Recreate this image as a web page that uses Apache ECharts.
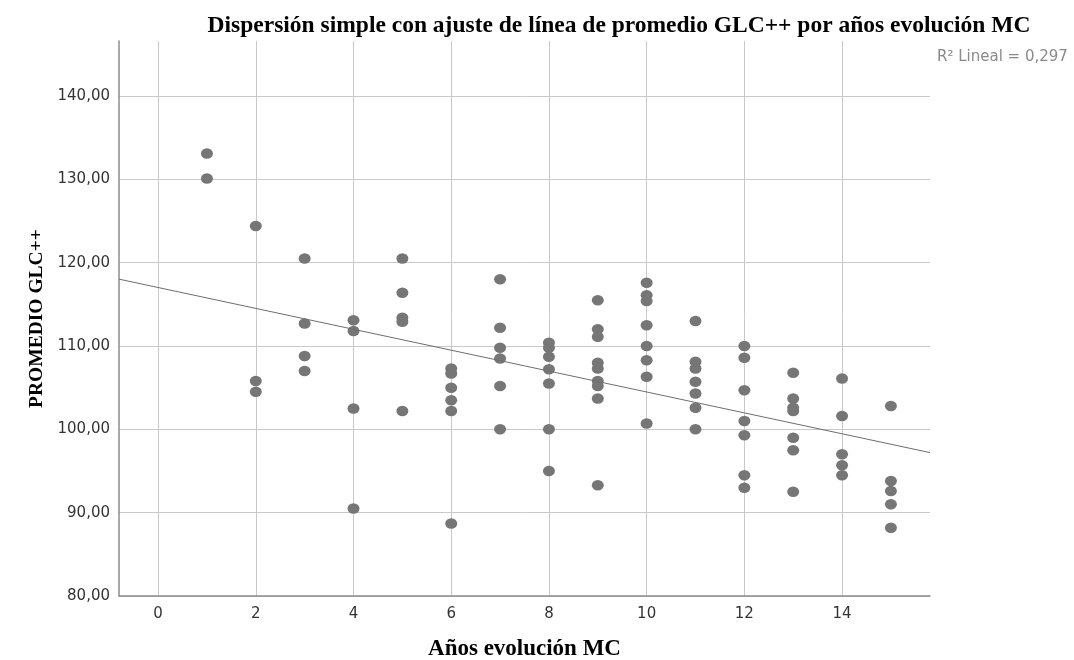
<!DOCTYPE html>
<html>
<head>
<meta charset="utf-8">
<script src="https://cdn.jsdelivr.net/npm/echarts@6/dist/echarts.min.js"></script>
<style>html,body{margin:0;padding:0;background:#fff}#c{width:1074px;height:660px}</style>
</head>
<body>
<div id="c"></div>
<script>
// Años evolución MC (x) and PROMEDIO GLC++ (y)
const anos = [
  1, 1,
  2, 2, 2,
  3, 3, 3, 3,
  4, 4, 4, 4,
  5, 5, 5, 5, 5,
  6, 6, 6, 6, 6, 6,
  7, 7, 7, 7, 7, 7,
  8, 8, 8, 8, 8, 8, 8,
  9, 9, 9, 9, 9, 9, 9, 9, 9,
  10, 10, 10, 10, 10, 10, 10, 10,
  11, 11, 11, 11, 11, 11, 11,
  12, 12, 12, 12, 12, 12, 12,
  13, 13, 13, 13, 13, 13, 13,
  14, 14, 14, 14, 14,
  15, 15, 15, 15, 15
];
const glc = [
  133.1, 130.1,
  124.4, 105.8, 104.5,
  120.5, 112.7, 108.8, 107.0,
  113.1, 111.8, 102.5, 90.5,
  120.5, 116.4, 113.4, 112.9, 102.2,
  107.3, 106.7, 105.0, 103.5, 102.2, 88.7,
  118.0, 112.2, 109.8, 108.5, 105.2, 100.0,
  110.4, 109.8, 108.7, 107.2, 105.5, 100.0, 95.0,
  115.5, 112.0, 111.1, 108.0, 107.3, 105.8, 105.2, 103.7, 93.3,
  117.6, 116.1, 115.4, 112.5, 110.0, 108.3, 106.3, 100.7,
  113.0, 108.1, 107.3, 105.7, 104.3, 102.6, 100.0,
  110.0, 108.6, 104.7, 101.0, 99.3, 94.5, 93.0,
  106.8, 103.7, 102.6, 102.2, 99.0, 97.5, 92.5,
  106.1, 101.6, 97.0, 95.7, 94.5,
  102.8, 93.8, 92.6, 91.0, 88.2
];
const xTicks = [0, 2, 4, 6, 8, 10, 12, 14];
const yTicks = [80, 90, 100, 110, 120, 130, 140];
const titleText = 'Dispersión simple con ajuste de línea de promedio GLC++ por años evolución MC';
const xName = 'Años evolución MC';
const yName = 'PROMEDIO GLC++';
const r2Text = 'R² Lineal = 0,297';
const xMin = -0.8, xMax = 15.8, yMin = 80, yMax = 146.6;

const points = anos.map((a, i) => [a, glc[i]]);
// least-squares fit of the plotted points
const n = anos.length;
const mx = anos.reduce((s, v) => s + v, 0) / n;
const my = glc.reduce((s, v) => s + v, 0) / n;
let sxy = 0, sxx = 0;
for (let i = 0; i < n; i++) { sxy += (anos[i] - mx) * (glc[i] - my); sxx += (anos[i] - mx) ** 2; }
const slope = sxy / sxx, icpt = my - slope * mx;
const fitLine = [[xMin, icpt + slope * xMin], [xMax, icpt + slope * xMax]];

const chart = echarts.init(document.getElementById('c'));
const sans = 'DejaVu Sans';
const serif = 'Liberation Serif';
chart.setOption({
  animation: false,
  backgroundColor: '#ffffff',
  title: {
    text: titleText, left: 614, top: 9, textAlign: 'center',
    textStyle: { fontFamily: serif, fontWeight: 'bold', fontSize: 23.5, color: '#000' }
  },
  graphic: [{
    type: 'text', left: 937, top: 50,
    style: { text: r2Text, font: '15px "DejaVu Sans"', fill: '#8a8a8a' }
  }],
  grid: { left: 119, right: 144, top: 41, bottom: 64, containLabel: false, outerBoundsMode: 'none' },
  xAxis: {
    type: 'value', min: xMin, max: xMax,
    name: xName, nameLocation: 'middle', nameGap: 42,
    nameTextStyle: { fontFamily: serif, fontWeight: 'bold', fontSize: 23, color: '#000' },
    axisLine: { show: true, onZero: false, lineStyle: { color: '#8c8c8c', width: 1.5 } },
    axisTick: { show: false, customValues: xTicks },
    axisLabel: { customValues: xTicks, fontFamily: sans, fontSize: 15, color: '#333', margin: 11 },
    splitLine: { show: true, lineStyle: { color: '#c9c9c9', width: 1 } }
  },
  yAxis: {
    type: 'value', min: yMin, max: yMax,
    name: yName, nameLocation: 'middle', nameGap: 59, nameRotate: 90,
    nameTextStyle: { fontFamily: serif, fontWeight: 'bold', fontSize: 19.5, color: '#000' },
    axisLine: { show: true, onZero: false, lineStyle: { color: '#8c8c8c', width: 1.5 } },
    axisTick: { show: false, customValues: yTicks },
    axisLabel: { customValues: yTicks, fontFamily: sans, fontSize: 15, color: '#333', margin: 9,
      formatter: v => v.toFixed(2).replace('.', ',') },
    splitLine: { show: true, lineStyle: { color: '#c9c9c9', width: 1 } }
  },
  series: [
    {
      type: 'scatter', data: points, symbol: 'circle', symbolSize: [12, 10.5],
      itemStyle: { color: '#767676', opacity: 1 }, z: 3
    },
    {
      type: 'line', data: fitLine, showSymbol: false, silent: true,
      lineStyle: { color: '#6e6e6e', width: 1 }, z: 4
    }
  ]
});
</script>
</body>
</html>
